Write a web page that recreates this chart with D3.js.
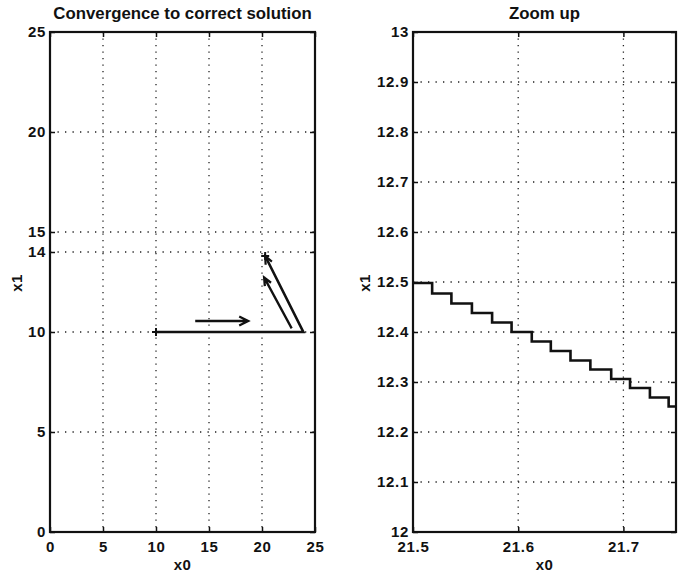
<!DOCTYPE html>
<html><head><meta charset="utf-8">
<script src="https://cdn.jsdelivr.net/npm/d3@7"></script>
<style>
body{margin:0;background:#fff;}
text{font-family:"Liberation Sans",Arial,sans-serif;font-weight:bold;fill:#111;}
</style></head><body>
<svg id="c" width="681" height="576"></svg>
<script>
// ---- data ----
const leftXTicks = [0, 5, 10, 15, 20, 25];
const leftYTicks = [0, 5, 10, 14, 15, 20, 25];
const leftXGrid = [5, 10, 15, 20];
const leftYGrid = [5, 10, 14, 15, 20];
// iteration path (x0, x1)
const pathX0 = [10, 23.9, 20.3];
const pathX1 = [10, 10, 13.8];
// direction arrows: start/end
const arrowStartX0 = [13.7, 22.8];
const arrowStartX1 = [10.55, 10.18];
const arrowEndX0 = [18.7, 20.2];
const arrowEndX1 = [10.55, 12.73];

const rightXTicks = [21.5, 21.6, 21.7];
const rightYTicks = [12, 12.1, 12.2, 12.3, 12.4, 12.5, 12.6, 12.7, 12.8, 12.9, 13];
const rightXGrid = [21.6, 21.7];
const rightYGrid = [12.1, 12.2, 12.3, 12.4, 12.5, 12.6, 12.7, 12.8, 12.9];
// zoomed staircase (x0 at start of each step, x1 level)
const stepX0 = [21.5, 21.5182, 21.5365, 21.556, 21.5752, 21.5937, 21.6129, 21.631, 21.6497, 21.6686, 21.6884, 21.7063, 21.7252, 21.743, 21.75];
const stepX1 = [12.498, 12.477, 12.457, 12.438, 12.419, 12.400, 12.381, 12.362, 12.343, 12.325, 12.306, 12.288, 12.269, 12.251, 12.251];

const svg = d3.select("#c");
const FS = 15;

function panel(opts){
  const g = svg.append("g");
  const {x, y, w, h} = opts;
  const xs = d3.scaleLinear().domain(opts.xd).range([x, x + w]);
  const ys = d3.scaleLinear().domain(opts.yd).range([y + h, y]);
  // grid
  g.selectAll(".vg").data(opts.xg).join("line")
    .attr("x1", d => xs(d)).attr("x2", d => xs(d))
    .attr("y1", y).attr("y2", y + h)
    .attr("stroke", "#222").attr("stroke-width", 1.3).attr("stroke-dasharray", "1.3,5.2");
  g.selectAll(".hg").data(opts.yg).join("line")
    .attr("y1", d => ys(d)).attr("y2", d => ys(d))
    .attr("x1", x).attr("x2", x + w)
    .attr("stroke", "#222").attr("stroke-width", 1.3).attr("stroke-dasharray", "1.3,6.2");
  // axes
  const fmt = opts.fmt;
  const ax = [
    [d3.axisBottom(xs).tickValues(opts.xt).tickSize(-5).tickPadding(9).tickFormat(fmt), `translate(0,${y + h})`],
    [d3.axisTop(xs).tickValues(opts.xt).tickSize(-5).tickFormat(""), `translate(0,${y})`],
    [d3.axisLeft(ys).tickValues(opts.yt).tickSize(-5).tickPadding(4).tickFormat(fmt), `translate(${x},0)`],
    [d3.axisRight(ys).tickValues(opts.yt).tickSize(-5).tickFormat(""), `translate(${x + w},0)`]
  ];
  ax.forEach(([a, t]) => {
    const s = g.append("g").attr("transform", t).call(a);
    s.select(".domain").remove();
    s.selectAll("line").attr("stroke", "#111").attr("stroke-width", 1.5);
    s.selectAll("text").attr("font-size", FS).attr("letter-spacing", 0.7)
      .attr("font-family", "Liberation Sans, Arial, sans-serif").attr("font-weight", "bold").attr("fill", "#111");
  });
  g.append("rect").attr("x", x).attr("y", y).attr("width", w).attr("height", h)
    .attr("fill", "none").attr("stroke", "#111").attr("stroke-width", 2.2);
  // labels
  g.append("text").attr("x", x + w / 2).attr("y", 19).attr("text-anchor", "middle")
    .attr("font-size", 16.8).text(opts.title);
  g.append("text").attr("x", x + w / 2).attr("y", 570).attr("text-anchor", "middle")
    .attr("font-size", FS).attr("letter-spacing", 0.5).text("x0");
  g.append("text").attr("transform", `translate(${opts.ylx},283) rotate(-90)`).attr("text-anchor", "middle")
    .attr("font-size", FS).attr("letter-spacing", 0.5).text("x1");
  return {g, xs, ys};
}

// Left panel
const L = panel({x: 50, y: 32, w: 265, h: 500, xd: [0, 25], yd: [0, 25],
  xt: leftXTicks, yt: leftYTicks, xg: leftXGrid, yg: leftYGrid,
  fmt: d3.format("d"), title: "Convergence to correct solution", ylx: 22});

const line = d3.line().x(d => L.xs(d[0])).y(d => L.ys(d[1]));
const pts = pathX0.map((v, i) => [v, pathX1[i]]);
L.g.append("path").attr("d", line(pts)).attr("fill", "none").attr("stroke", "#111").attr("stroke-width", 2.6).attr("stroke-linejoin", "miter");
// plus markers at ends
[pts[0], pts[pts.length - 1]].forEach(p => {
  const cx = L.xs(p[0]), cy = L.ys(p[1]);
  L.g.append("path").attr("d", `M${cx - 4},${cy}H${cx + 4}M${cx},${cy - 4}V${cy + 4}`)
    .attr("stroke", "#111").attr("stroke-width", 2);
});
function arrow(g, x1, y1, x2, y2, len, half, sw){
  const ang = Math.atan2(y2 - y1, x2 - x1);
  const bx = x2 - len * Math.cos(ang), by = y2 - len * Math.sin(ang);
  const px = -Math.sin(ang) * half, py = Math.cos(ang) * half;
  g.append("path").attr("d", `M${x1},${y1}L${x2},${y2}M${bx + px},${by + py}L${x2},${y2}L${bx - px},${by - py}`)
    .attr("fill", "none").attr("stroke", "#111").attr("stroke-width", sw).attr("stroke-linejoin", "miter");
}
{
  const a = pts[pts.length - 2], b = pts[pts.length - 1];
  const ang = Math.atan2(L.ys(b[1]) - L.ys(a[1]), L.xs(b[0]) - L.xs(a[0]));
  const x2 = L.xs(b[0]), y2 = L.ys(b[1]);
  const bx = x2 - 8 * Math.cos(ang), by = y2 - 8 * Math.sin(ang);
  const px = -Math.sin(ang) * 3.5, py = Math.cos(ang) * 3.5;
  L.g.append("path").attr("d", `M${bx + px},${by + py}L${x2},${y2}L${bx - px},${by - py}`)
    .attr("fill", "none").attr("stroke", "#111").attr("stroke-width", 2.2);
}
arrowStartX0.forEach((v, i) => {
  arrow(L.g, L.xs(v), L.ys(arrowStartX1[i]), L.xs(arrowEndX0[i]), L.ys(arrowEndX1[i]), i === 0 ? 9 : 8, i === 0 ? 4.5 : 3.5, 2.3);
});

// Right panel
const R = panel({x: 413, y: 32, w: 263, h: 500, xd: [21.5, 21.75], yd: [12, 13],
  xt: rightXTicks, yt: rightYTicks, xg: rightXGrid, yg: rightYGrid,
  fmt: d => (Number.isInteger(d) ? d3.format("d")(d) : d3.format(".1f")(d)), title: "Zoom up", ylx: 370});
const sline = d3.line().x(d => R.xs(d[0])).y(d => R.ys(d[1])).curve(d3.curveStepAfter);
R.g.append("path").attr("d", sline(stepX0.map((v, i) => [v, stepX1[i]])))
  .attr("fill", "none").attr("stroke", "#111").attr("stroke-width", 2.6);
</script>
</body></html>
